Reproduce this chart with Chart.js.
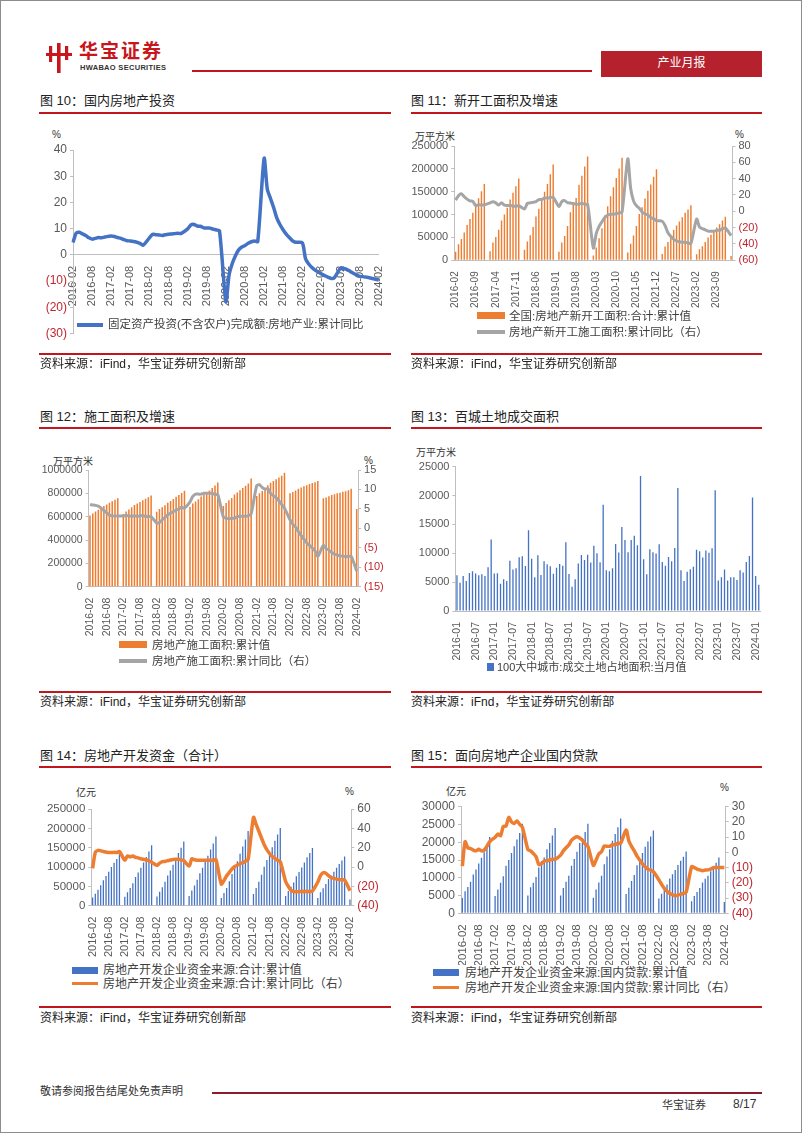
<!DOCTYPE html>
<html>
<head>
<meta charset="utf-8">
<script src="https://cdn.jsdelivr.net/npm/chart.js@4.4.1/dist/chart.umd.min.js"></script>
<style>
  body { margin: 0; background: #fff; }
  #page { position: relative; width: 802px; height: 1133px; overflow: hidden; font-family: "Liberation Sans", "Noto Sans CJK SC", sans-serif; color: #222; }
  .frame { position: absolute; left: 0; top: 0; width: 800px; height: 1131px; border: 1px solid #8c8c8c; }
  .t { position: absolute; white-space: nowrap; line-height: 1.1; }
  .ttl { font-size: 13px; color: #222; }
  .src { font-size: 12px; color: #222; }
  .unit { font-size: 10px; color: #333; }
  .lg { font-size: 11.5px; color: #404040; }
  .rl { position: absolute; height: 2px; background: #c0161e; }
  .sw { position: absolute; }
  canvas { position: absolute; }
</style>
</head>
<body>
<div id="page">
  <div class="frame"></div>

  <!-- header -->
  <svg style="position:absolute;left:46px;top:43px" width="26" height="30">
    <rect x="3" y="3" width="3.2" height="16" fill="#c8161d"/>
    <rect x="0" y="10" width="26" height="3" fill="#c8161d"/>
    <rect x="11" y="0" width="3.6" height="30" fill="#c8161d"/>
    <rect x="19" y="3" width="3.2" height="14" fill="#c8161d"/>
  </svg>
  <div class="t" style="left:79px;top:42px;font-size:19px;line-height:20px;font-weight:bold;color:#c8161d;letter-spacing:2px">华宝证券</div>
  <div class="t" style="left:80px;top:64px;font-size:7.5px;line-height:8px;font-weight:bold;color:#333;letter-spacing:0.3px">HWABAO SECURITIES</div>
  <div class="rl" style="left:192px;top:70px;width:400px;height:1.5px"></div>
  <div style="position:absolute;left:601px;top:51px;width:161px;height:26px;background:#b5222d"></div>
  <div class="t" style="left:601px;top:57px;width:161px;text-align:center;font-size:12px;color:#fff">产业月报</div>

  <!-- row 1 -->
  <div class="t ttl" style="left:40px;top:94px">图 10：国内房地产投资</div>
  <div class="rl" style="left:39px;top:112px;width:352px"></div>
  <div class="t ttl" style="left:411px;top:94px">图 11：新开工面积及增速</div>
  <div class="rl" style="left:411px;top:112px;width:351px"></div>

  <div class="t unit" style="left:52px;top:129px">%</div>
  <canvas id="c10" width="365" height="220" style="left:30px;top:128px"></canvas>
  <div class="sw" style="left:77px;top:323px;width:26px;height:4px;background:#4472c4"></div>
  <div class="t lg" style="left:108px;top:318px">固定资产投资(不含农户)完成额:房地产业:累计同比</div>

  <div class="t unit" style="left:415px;top:131px">万平方米</div>
  <div class="t unit" style="left:735px;top:129px">%</div>
  <canvas id="c11" width="370" height="190" style="left:405px;top:128px"></canvas>
  <div class="sw" style="left:477px;top:312px;width:28px;height:7px;background:#ed7d31"></div>
  <div class="t lg" style="left:509px;top:310px">全国:房地产新开工面积:合计:累计值</div>
  <div class="sw" style="left:477px;top:330px;width:28px;height:4px;background:#a5a5a5"></div>
  <div class="t lg" style="left:509px;top:326px">房地产新开工施工面积:累计同比（右）</div>

  <div class="rl" style="left:39px;top:353px;width:352px"></div>
  <div class="t src" style="left:40px;top:358px">资料来源：iFind，华宝证券研究创新部</div>
  <div class="rl" style="left:411px;top:353px;width:351px"></div>
  <div class="t src" style="left:411px;top:358px">资料来源：iFind，华宝证券研究创新部</div>

  <!-- row 2 -->
  <div class="t ttl" style="left:40px;top:410px">图 12：施工面积及增速</div>
  <div class="rl" style="left:39px;top:427px;width:352px"></div>
  <div class="t ttl" style="left:411px;top:410px">图 13：百城土地成交面积</div>
  <div class="rl" style="left:411px;top:427px;width:351px"></div>

  <div class="t unit" style="left:53px;top:456px">万平方米</div>
  <div class="t unit" style="left:364px;top:455px">%</div>
  <canvas id="c12" width="365" height="185" style="left:30px;top:455px"></canvas>
  <div class="sw" style="left:119px;top:641px;width:28px;height:7px;background:#ed7d31"></div>
  <div class="t lg" style="left:152px;top:639px">房地产施工面积:累计值</div>
  <div class="sw" style="left:119px;top:659px;width:28px;height:4px;background:#a5a5a5"></div>
  <div class="t lg" style="left:152px;top:655px">房地产施工面积:累计同比（右）</div>

  <div class="t unit" style="left:416px;top:447px">万平方米</div>
  <canvas id="c13" width="370" height="205" style="left:405px;top:455px"></canvas>
  <div class="sw" style="left:487px;top:663px;width:7px;height:8px;background:#4472c4"></div>
  <div class="t lg" style="left:497px;top:661px;font-size:11px">100大中城市:成交土地占地面积:当月值</div>

  <div class="rl" style="left:39px;top:691px;width:352px"></div>
  <div class="t src" style="left:40px;top:696px">资料来源：iFind，华宝证券研究创新部</div>
  <div class="rl" style="left:411px;top:691px;width:351px"></div>
  <div class="t src" style="left:411px;top:696px">资料来源：iFnd，华宝证券研究创新部</div>

  <!-- row 3 -->
  <div class="t ttl" style="left:40px;top:749px">图 14：房地产开发资金（合计）</div>
  <div class="rl" style="left:39px;top:766px;width:352px"></div>
  <div class="t ttl" style="left:411px;top:749px">图 15：面向房地产企业国内贷款</div>
  <div class="rl" style="left:411px;top:766px;width:351px"></div>

  <div class="t unit" style="left:76px;top:787px">亿元</div>
  <div class="t unit" style="left:345px;top:786px">%</div>
  <canvas id="c14" width="365" height="162" style="left:30px;top:795px"></canvas>
  <div class="sw" style="left:72px;top:967px;width:26px;height:7px;background:#4472c4"></div>
  <div class="t lg" style="left:103px;top:964px;font-size:12px">房地产开发企业资金来源:合计:累计值</div>
  <div class="sw" style="left:72px;top:982px;width:26px;height:3px;background:#ed7d31"></div>
  <div class="t lg" style="left:103px;top:978px;font-size:12px">房地产开发企业资金来源:合计:累计同比（右）</div>

  <div class="t unit" style="left:446px;top:786px">亿元</div>
  <div class="t unit" style="left:720px;top:782px">%</div>
  <canvas id="c15" width="370" height="170" style="left:405px;top:795px"></canvas>
  <div class="sw" style="left:433px;top:969px;width:26px;height:7px;background:#4472c4"></div>
  <div class="t lg" style="left:465px;top:967px;font-size:12px">房地产开发企业资金来源:国内贷款:累计值</div>
  <div class="sw" style="left:433px;top:986px;width:26px;height:3px;background:#ed7d31"></div>
  <div class="t lg" style="left:465px;top:982px;font-size:12px">房地产开发企业资金来源:国内贷款:累计同比（右）</div>

  <div class="rl" style="left:39px;top:1006px;width:352px"></div>
  <div class="t src" style="left:40px;top:1012px">资料来源：iFind，华宝证券研究创新部</div>
  <div class="rl" style="left:411px;top:1006px;width:351px"></div>
  <div class="t src" style="left:411px;top:1012px">资料来源：iFind，华宝证券研究创新部</div>

  <!-- footer -->
  <div class="t" style="left:40px;top:1085px;font-size:11px;color:#333">敬请参阅报告结尾处免责声明</div>
  <div class="rl" style="left:212px;top:1092px;width:550px;height:1.5px;background:#8c1c2c"></div>
  <div class="t" style="left:662px;top:1099px;font-size:11px;color:#333">华宝证券</div>
  <div class="t" style="left:733px;top:1098px;font-size:12px;color:#333">8/17</div>
</div>

<script>
// month categories
function monthRange(y0, m0, y1, m1) {
  var out = [];
  var y = y0, m = m0;
  while (y < y1 || (y === y1 && m <= m1)) {
    out.push(y + '-' + (m < 10 ? '0' + m : m));
    m++;
    if (m > 12) { m = 1; y++; }
  }
  return out;
}
const months = monthRange(2016, 2, 2024, 2);     // 97, Jan left empty in cumulative series
const months13 = monthRange(2016, 1, 2024, 2);   // 98

// shown x tick labels
const ticksHalfYear = ['2016-02','2016-08','2017-02','2017-08','2018-02','2018-08','2019-02','2019-08','2020-02','2020-08','2021-02','2021-08','2022-02','2022-08','2023-02','2023-08','2024-02'];
const ticks11 = ['2016-02','2016-09','2017-04','2017-11','2018-06','2019-01','2019-08','2020-03','2020-10','2021-05','2021-12','2022-07','2023-02','2023-09'];
const ticks13 = ['2016-01','2016-07','2017-01','2017-07','2018-01','2018-07','2019-01','2019-07','2020-01','2020-07','2021-01','2021-07','2022-01','2022-07','2023-01','2023-07','2024-01'];

// fig 10: real estate investment, cumulative yoy %
const invYoy = [
  4.7, 8.3, 8.6, 8.0, 7.4, 6.5, 6.0, 6.3, 6.6, 6.5, 6.8,
  null, 7.2, 7.0, 6.6, 6.3, 5.8, 5.4, 5.3, 5.1, 4.8, 4.4, 3.7,
  null, 6.5, 7.8, 7.7, 7.6, 7.4, 7.7, 7.9, 8.0, 8.1, 8.2, 8.2,
  null, 9.9, 11.4, 11.6, 11.0, 10.9, 10.3, 10.2, 10.2, 9.8, 9.5, 9.1,
  null, -17.8, -7.7, -3.3, -0.3, 1.9, 3.0, 3.6, 4.4, 5.0, 5.3, 5.1,
  null, 36.8, 25.0, 21.5, 18.0, 14.0, 11.5, 9.5, 7.8, 6.5, 5.3, 4.8,
  null, 4.6, -1.5, -3.5, -4.8, -5.8, -6.5, -7.3, -7.9, -8.5, -9.0, -8.8,
  null, -5.0, -5.2, -5.6, -6.3, -7.0, -7.6, -8.2, -8.3, -8.5, -8.7, -9.0,
  null, -9.6
];

// fig 11: new starts, cumulative (万平方米) and yoy %
const newStarts = [
  18584, 34966, 46479, 61045, 77186, 90062, 103788, 122090, 135838, 151000, 166928,
  null, 20059, 38862, 51000, 66874, 87000, 100000, 115000, 133000, 148000, 162000, 178654,
  null, 23064, 41000, 55000, 73000, 96000, 113000, 130000, 150000, 167000, 188000, 209342,
  null, 18800, 39000, 53000, 75000, 105000, 121000, 136000, 165000, 185000, 205000, 227154,
  null, 10400, 28000, 48000, 70000, 98000, 118000, 140000, 160000, 180000, 201000, 224433,
  null, 17000, 36000, 54000, 75000, 101000, 116000, 135000, 152000, 166000, 183000, 198895,
  null, 14000, 30000, 40000, 52000, 66000, 76000, 85000, 94000, 104000, 111000, 120587,
  null, 13500, 24000, 31000, 40000, 50000, 56000, 64000, 72000, 79000, 87000, 95376,
  null, 9400
];
const newStartsYoy = [
  13.7, 19.2, 21.4, 18.0, 14.9, 12.8, 12.2, 6.9, 8.2, 7.6, 8.1,
  null, 10.4, 11.6, 10.3, 7.6, 10.6, 7.5, 7.2, 7.3, 6.3, 6.1, 7.0,
  null, 2.9, 9.7, 10.4, 11.0, 11.8, 14.4, 14.4, 16.4, 16.3, 16.8, 17.2,
  null, 6.0, 11.9, 13.1, 10.5, 10.1, 9.5, 8.9, 8.6, 10.0, 8.6, 8.5,
  null, -44.9, -27.2, -18.4, -12.8, -7.6, -4.5, -3.6, -3.4, -2.9, -2.0, -1.2,
  null, 64.3, 28.2, 12.8, 6.9, 3.8, -0.9, -3.2, -4.5, -7.7, -9.1, -11.4,
  null, -12.2, -17.5, -26.3, -30.6, -34.4, -36.1, -37.2, -38.0, -37.8, -38.9, -39.4,
  null, -9.4, -19.2, -21.2, -22.6, -24.3, -24.5, -24.4, -23.4, -23.2, -21.2, -20.4,
  null, -29.7
];

// fig 12: area under construction, cumulative (万平方米) and yoy %
const underConstr = [
  610000, 628000, 645000, 660000, 680000, 692000, 705000, 720000, 733000, 745000, 758975,
  null, 623000, 645000, 662000, 680000, 700000, 712000, 726000, 740000, 753000, 766000, 781484,
  null, 643000, 665000, 680000, 698000, 720000, 735000, 751000, 770000, 786000, 803000, 822300,
  null, 682000, 712000, 730000, 750000, 772000, 789000, 805000, 825000, 845000, 867000, 893821,
  null, 691000, 718000, 740000, 760000, 790000, 808000, 826000, 845000, 865000, 885000, 926759,
  null, 777000, 800000, 820000, 840000, 870000, 890000, 905000, 920000, 935000, 950000, 975387,
  null, 800000, 812000, 825000, 840000, 850000, 860000, 870000, 880000, 888000, 895000, 904999,
  null, 757000, 765000, 775000, 785000, 792000, 800000, 806000, 813000, 818000, 826000, 838364,
  null, 665000
];
const underConstrYoy = [
  6.1, 6.0, 5.9, 5.7, 5.2, 4.6, 4.0, 3.4, 3.2, 3.2, 3.2,
  null, 3.2, 3.3, 3.2, 3.1, 3.2, 3.1, 3.2, 3.3, 3.1, 3.0, 3.0,
  null, 1.4, 1.5, 2.2, 2.8, 3.5, 3.9, 4.3, 4.7, 5.0, 5.4, 5.2,
  null, 6.8, 8.2, 8.8, 8.8, 8.8, 9.0, 9.0, 9.0, 9.0, 8.7, 8.7,
  null, 2.9, 2.6, 2.5, 2.6, 2.6, 3.0, 3.1, 3.1, 3.1, 3.2, 3.7,
  null, 11.0, 11.2, 10.5, 10.1, 10.2, 9.0, 8.4, 7.9, 7.1, 6.1, 5.2,
  null, 2.2, 1.0, 0.3, -0.8, -1.8, -2.8, -3.7, -4.4, -5.0, -5.8, -7.2,
  null, -4.4, -5.2, -5.6, -6.2, -6.6, -6.8, -7.1, -7.1, -7.3, -7.2, -7.2,
  null, -11.0
];

// fig 13: land sold in 100 cities, monthly (万平方米)
const landArea = [
  6200, 4900, 6050, 5200, 6600, 6900, 6500, 6200, 6350, 6050, 7600, 12400,
  6500, 6550, 4700, 5500, 5200, 8700, 7200, 7400, 9300, 9500, 7800, 14000,
  9050, 5850, 9650, 6250, 8600, 8100, 7750, 6450, 7500, 8150, 7850, 11900,
  6400, 4200, 5500, 8250, 9700, 8850, 9750, 8400, 11300, 10000, 8450, 18400,
  7050, 6900, 7400, 11600, 10150, 14550, 12300, 10200, 12300, 13050, 11400, 23400,
  8950, 6350, 10700, 10200, 9950, 11550, 8500, 7850, 9350, 8600, 10900, 21300,
  7050, 5200, 6800, 7250, 7650, 10600, 10350, 9250, 10500, 10100, 10850, 20900,
  5300, 5850, 7200, 5300, 5850, 5850, 5350, 7050, 6650, 8500, 9550, 19650,
  6050, 4550
];

// fig 14: development funds total, cumulative (亿元) and yoy %
const funds = [
  21500, 31000, 41000, 53000, 66000, 77000, 88000, 100000, 111000, 121000, 134000,
  null, 23000, 35000, 46000, 58000, 74000, 86000, 98000, 112000, 126000, 140000, 156000,
  null, 24000, 36000, 48000, 62000, 78000, 91000, 106000, 121000, 136000, 150000, 166000,
  null, 25000, 39000, 52000, 67000, 84000, 98000, 113000, 129000, 145000, 161000, 179000,
  null, 20000, 33000, 46000, 63000, 82000, 98000, 115000, 134000, 153000, 171000, 193000,
  null, 30000, 46000, 62000, 80000, 101000, 118000, 134000, 151000, 168000, 184000, 201000,
  null, 25000, 38000, 49000, 60000, 76000, 87000, 99000, 112000, 125000, 136000, 149000,
  null, 20000, 35000, 45000, 56000, 69000, 78000, 88000, 98000, 108000, 117000, 127000,
  null, 16000
];
const fundsYoy = [
  -1.4, 15.2, 17.2, 16.8, 16.0, 15.5, 15.0, 15.0, 15.2, 15.0, 15.9,
  null, 7.2, 11.5, 10.5, 11.5, 10.0, 9.5, 8.5, 8.0, 7.5, 6.5, 5.0,
  null, 1.7, 4.0, 5.5, 5.8, 6.5, 7.2, 7.8, 8.0, 8.0, 7.5, 6.5,
  null, 1.0, 8.6, 7.5, 7.0, 7.0, 7.0, 7.0, 7.0, 7.0, 7.0, 7.6,
  null, -17.6, -14.0, -9.0, -5.5, -2.0, 0.5, 2.0, 3.5, 4.5, 6.0, 7.9,
  null, 51.4, 44.0, 37.0, 30.0, 23.0, 18.0, 14.0, 11.0, 9.0, 7.0, 5.5,
  null, -15.0, -20.0, -24.0, -25.5, -25.5, -25.5, -25.0, -25.5, -25.0, -25.5, -24.8,
  null, -15.5, -9.0, -5.9, -6.5, -9.0, -11.0, -11.7, -12.5, -13.0, -13.3, -13.4,
  null, -24.5
];

// fig 15: domestic loans, cumulative (亿元) and yoy %
const loans = [
  4300, 6200, 7400, 8900, 10900, 12300, 14000, 15600, 17200, 19000, 21500,
  null, 4900, 6700, 8600, 10400, 13400, 15000, 17000, 18900, 20800, 22600, 25200,
  null, 5000, 7300, 8600, 10200, 12900, 14700, 15700, 18000, 19800, 21900, 24000,
  null, 5000, 7100, 8900, 10600, 13400, 15300, 17300, 19800, 21200, 22900, 25200,
  null, 4400, 6700, 8700, 10600, 13800, 16000, 18000, 20400, 22300, 24200, 26700,
  null, 5400, 7200, 9100, 10800, 13500, 15000, 17000, 18700, 20200, 21600, 23300,
  null, 4200, 5500, 6700, 8100, 9800, 11000, 12200, 13600, 14800, 15900, 17400,
  null, 3400, 4900, 6000, 7100, 8700, 9700, 10600, 11800, 12600, 14200, 15700,
  null, 3200
];
const loansYoy = [
  -9.0, 7.0, 3.0, 2.5, 1.5, 1.0, 2.0, 1.0, 1.5, 4.0, 7.0,
  null, 10.0, 12.0, 11.0, 17.0, 17.3, 23.0, 20.0, 19.0, 20.6, 18.4, 16.5,
  null, 2.0, 1.0, -0.7, -2.8, -7.9, -7.5, -5.7, -5.5, -5.0, -4.5, -4.6,
  null, -1.8, 1.0, 3.0, 4.8, 8.0, 9.5, 10.3, 9.5, 8.0, 5.5, 4.0,
  null, -8.5, -5.0, -1.0, 0.5, 4.2, 4.0, 4.0, 5.0, 5.0, 6.0, 5.9,
  null, 14.7, 7.5, 4.0, 1.0, -2.5, -5.0, -7.5, -9.5, -11.0, -11.6, -12.7,
  null, -18.0, -21.0, -23.6, -25.5, -27.0, -27.8, -28.5, -28.0, -27.5, -27.0, -26.2,
  null, -9.4, -10.0, -11.0, -11.5, -12.0, -11.6, -11.5, -11.0, -10.0, -10.0, -9.9,
  null, -10.0
];

const GRAY = '#595959';
const RED = '#c0262d';
const AXIS = '#bfbfbf';
const BLUE = '#4472c4';
const ORANGE = '#ed7d31';
const LGRAY = '#a5a5a5';

Chart.defaults.font.family = '"Liberation Sans", Arial, sans-serif';
Chart.defaults.color = GRAY;
Chart.defaults.animation = false;
Chart.defaults.plugins.legend.display = false;
Chart.defaults.plugins.tooltip.enabled = false;

function xAxis(labels, shown, size, height) {
  var ax = {
    type: 'category',
    grid: { display: false },
    border: { display: true, color: AXIS },
    ticks: {
      autoSkip: false, minRotation: 90, maxRotation: 90, padding: 3,
      font: { size: size }, color: GRAY,
      callback: function (v, i) { return shown.indexOf(labels[i]) >= 0 ? labels[i] : ''; }
    }
  };
  if (height != null) ax.afterFit = function (s) { s.height = height; };
  return ax;
}

function yAxis(pos, min, max, step, size, width) {
  return {
    position: pos, min: min, max: max,
    grid: { display: true, drawOnChartArea: false, drawTicks: true, tickLength: 3, color: AXIS },
    border: { display: true, color: AXIS },
    ticks: {
      stepSize: step, padding: 3, autoSkip: false, font: { size: size },
      color: function (c) { return c.tick && c.tick.value < 0 ? RED : GRAY; },
      callback: function (v) { return v < 0 ? '(' + (-v) + ')' : v; }
    },
    afterFit: function (s) { s.width = width; }
  };
}

function lineSet(data, color, width, axis) {
  return {
    type: 'line', data: data, yAxisID: axis, order: 0,
    borderColor: color, borderWidth: width, pointRadius: 0,
    tension: 0.25, spanGaps: true, fill: false
  };
}

function barSet(data, color, pct) {
  return {
    type: 'bar', data: data, yAxisID: 'y', order: 1,
    backgroundColor: color, barPercentage: pct, categoryPercentage: 1
  };
}

// fig 10
var x10 = xAxis(months, ticksHalfYear, 11, null);
x10.position = { y: 0 };
new Chart(document.getElementById('c10'), {
  type: 'line',
  data: { labels: months, datasets: [lineSet(invYoy, BLUE, 3.5, 'y')] },
  options: {
    responsive: false,
    layout: { padding: { top: 22, bottom: 14.5, right: 11, left: 0 } },
    scales: { x: x10, y: yAxis('left', -30, 40, 10, 12, 43) }
  }
});

// fig 11
new Chart(document.getElementById('c11'), {
  type: 'bar',
  data: { labels: months, datasets: [barSet(newStarts, ORANGE, 0.5), lineSet(newStartsYoy, LGRAY, 3, 'y1')] },
  options: {
    responsive: false,
    layout: { padding: { top: 18, bottom: 0, left: 0, right: 0 } },
    scales: {
      x: xAxis(months, ticks11, 10, 57.7),
      y: yAxis('left', 0, 250000, 50000, 11, 49.2),
      y1: yAxis('right', -60, 80, 20, 11, 42.5)
    }
  }
});

// fig 12
new Chart(document.getElementById('c12'), {
  type: 'bar',
  data: { labels: months, datasets: [barSet(underConstr, ORANGE, 0.55), lineSet(underConstrYoy, LGRAY, 3, 'y1')] },
  options: {
    responsive: false,
    layout: { padding: { top: 15, bottom: 0, left: 0, right: 0 } },
    scales: {
      x: xAxis(months, ticksHalfYear, 10.5, 53.3),
      y: yAxis('left', 0, 1000000, 200000, 10.5, 58.6),
      y1: yAxis('right', -15, 15, 5, 11, 36.9)
    }
  }
});

// fig 13
new Chart(document.getElementById('c13'), {
  type: 'bar',
  data: { labels: months13, datasets: [barSet(landArea, BLUE, 0.42)] },
  options: {
    responsive: false,
    layout: { padding: { top: 11.7, bottom: 0, left: 0, right: 14.7 } },
    scales: {
      x: xAxis(months13, ticks13, 10.5, 49),
      y: yAxis('left', 0, 25000, 5000, 11, 50.4)
    }
  }
});

// fig 14
new Chart(document.getElementById('c14'), {
  type: 'bar',
  data: { labels: months, datasets: [barSet(funds, BLUE, 0.48), lineSet(fundsYoy, ORANGE, 3.5, 'y1')] },
  options: {
    responsive: false,
    layout: { padding: { top: 14, bottom: 0, left: 0, right: 0 } },
    scales: {
      x: xAxis(months, ticksHalfYear, 11, 51.3),
      y: yAxis('left', 0, 250000, 50000, 11.5, 61.3),
      y1: yAxis('right', -40, 60, 20, 12, 43.7)
    }
  }
});

// fig 15
new Chart(document.getElementById('c15'), {
  type: 'bar',
  data: { labels: months, datasets: [barSet(loans, BLUE, 0.48), lineSet(loansYoy, ORANGE, 3.5, 'y1')] },
  options: {
    responsive: false,
    layout: { padding: { top: 11.7, bottom: 0, left: 0, right: 0 } },
    scales: {
      x: xAxis(months, ticksHalfYear, 11.5, 51.7),
      y: yAxis('left', 0, 30000, 5000, 12, 56),
      y1: yAxis('right', -40, 30, 10, 12, 49.3)
    }
  }
});
</script>
</body>
</html>
